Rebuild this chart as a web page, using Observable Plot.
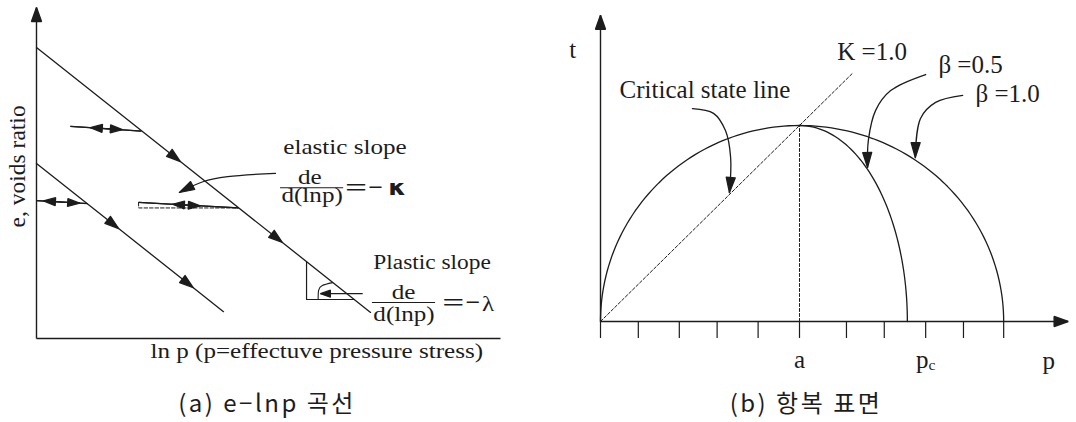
<!DOCTYPE html>
<html>
<head>
<meta charset="utf-8">
<script src="https://cdn.jsdelivr.net/npm/d3@7"></script>
<script src="https://cdn.jsdelivr.net/npm/@observablehq/plot@0.6"></script>
<style>
  body { margin: 0; background: #fff; }
  #wrap { position: relative; width: 1076px; height: 422px; overflow: hidden; }
  .panel { position: absolute; top: 0; height: 422px; }
  .panel svg { display: block; }
  .caption {
    position: absolute; top: 389px; transform: translateX(-50%);
    font-family: "Noto Sans CJK KR", sans-serif; font-size: 24px; line-height: 25px;
    letter-spacing: 2.5px; white-space: nowrap; color: #1c1c1c;
  }
</style>
</head>
<body>
<div id="wrap">
  <div class="panel" id="left" style="left:0;width:540px"><div class="caption" style="left:267px">(a) e−lnp 곡선</div></div>
  <div class="panel" id="right" style="left:540px;width:536px"><div class="caption" style="left:266px">(b) 항복 표면</div></div>
</div>
<script>
const ink = "#1c1c1c";
const serif = "Liberation Serif";

// Filled triangular arrowhead whose tip sits on the end of the path.
function arrowHead(len, half) {
  return (color) => {
    const ns = "http://www.w3.org/2000/svg";
    const m = document.createElementNS(ns, "marker");
    m.setAttribute("viewBox", `${-len} ${-half} ${len} ${2 * half}`);
    m.setAttribute("markerWidth", len);
    m.setAttribute("markerHeight", 2 * half);
    m.setAttribute("markerUnits", "userSpaceOnUse");
    m.setAttribute("refX", 0);
    m.setAttribute("refY", 0);
    m.setAttribute("orient", "auto");
    m.setAttribute("overflow", "visible");
    const p = document.createElementNS(ns, "path");
    p.setAttribute("d", `M0,0L${-len},${-half}L${-len},${half}Z`);
    p.setAttribute("fill", color);
    m.appendChild(p);
    return m;
  };
}
const axisHead = arrowHead(14, 5);
const flowHead = arrowHead(14, 4.5);
const swellHead = arrowHead(12, 4);
const calloutHead = arrowHead(15, 4.5);
const smallHead = arrowHead(10, 3.5);

// ---------- (a) e – ln p ----------
const lnpAxisEnd = 10;
const eAxisTop = 9;

// normal consolidation line and a parallel line below (interior points carry the flow arrows)
const nclUpper = [
  {lnp: 0, e: 7.91}, {lnp: 3.10, e: 4.81}, {lnp: 5.30, e: 2.61}, {lnp: 7.20, e: 0.71}
];
const nclLower = [
  {lnp: 0, e: 4.76}, {lnp: 1.77, e: 2.99}, {lnp: 3.38, e: 1.38}, {lnp: 4.03, e: 0.73}
];

// unloading–reloading segments
const swellSegments = [
  {x1: 0.73, y1: 5.77, x2: 2.26, y2: 5.64},
  {x1: 0.00, y1: 3.75, x2: 1.10, y2: 3.67},
  {x1: 2.20, y1: 3.70, x2: 4.35, y2: 3.55}
];
// their arrowheads: tail → tip
const swellArrows = [
  {x1: 2.26, y1: 5.64, x2: 1.16, y2: 5.735},
  {x1: 0.73, y1: 5.77, x2: 1.85, y2: 5.68},
  {x1: 1.10, y1: 3.67, x2: 0.15, y2: 3.74},
  {x1: 0.00, y1: 3.75, x2: 0.93, y2: 3.68},
  {x1: 4.35, y1: 3.55, x2: 2.93, y2: 3.649},
  {x1: 2.20, y1: 3.70, x2: 3.53, y2: 3.607}
];

const kappaGuide = [{lnp: 2.20, e: 3.70}, {lnp: 2.20, e: 3.55}, {lnp: 4.35, e: 3.55}];
const lambdaGuide = [{lnp: 5.82, e: 2.09}, {lnp: 5.82, e: 1.06}, {lnp: 6.85, e: 1.06}];
const lambdaArc = [{lnp: 6.38, e: 1.52}, {lnp: 6.16, e: 1.44}, {lnp: 6.08, e: 1.31}, {lnp: 6.07, e: 1.09}];
const lambdaPointer = [{x1: 7.03, y1: 1.22, x2: 6.12, y2: 1.22}];
const kappaCallout = [[5.15, 4.49], [4.12, 4.40], [3.60, 4.27], [3.08, 3.97]];

const elasticTitle = [{text: "elastic slope", x: 5.32, y: 5.03}];
const plasticTitle = [{text: "Plastic slope", x: 7.26, y: 1.90}];
const numerators = [{text: "de", x: 5.89, y: 4.21}, {text: "de", x: 7.91, y: 1.08}];
const fractionBars = [{y: 4.10, x1: 5.26, x2: 6.62}, {y: 0.98, x1: 7.24, x2: 8.60}];
const denominators = [{text: "d(lnp)", x: 5.94, y: 3.70}, {text: "d(lnp)", x: 7.92, y: 0.48}];
const equalsMinus = [{text: "＝−", x: 6.615, y: 4.08}, {text: "＝−", x: 8.71, y: 0.95}];
const kappaSymbol = [{text: "κ", x: 7.77, y: 4.08}];
const lambdaSymbol = [{text: "λ", x: 9.73, y: 0.95}];
const eAxisTitle = [{text: "e, voids ratio", x: -0.40, y: 4.68}];
const lnpAxisTitle = [{text: "ln p (p=effectuve pressure stress)", x: 2.457, y: -0.52}];

const linkXY = {x1: "x1", y1: "y1", x2: "x2", y2: "y2"};

const leftPlot = Plot.plot({
  width: 540, height: 372,
  marginTop: 7, marginRight: 40, marginBottom: 34, marginLeft: 36,
  x: {domain: [0, lnpAxisEnd], range: [36, 500], axis: null},
  y: {domain: [0, eAxisTop], range: [338, 7], axis: null},
  style: {background: "white", color: ink, overflow: "visible"},
  marks: [
    Plot.link([{x1: 0, y1: 0, x2: 0, y2: eAxisTop}], {...linkXY, stroke: ink, strokeWidth: 1.4, markerEnd: axisHead}),
    Plot.link([{x1: 0, y1: 0, x2: lnpAxisEnd, y2: 0}], {...linkXY, stroke: ink, strokeWidth: 1.4}),
    Plot.line(nclUpper, {x: "lnp", y: "e", stroke: ink, strokeWidth: 1.3, markerMid: flowHead}),
    Plot.line(nclLower, {x: "lnp", y: "e", stroke: ink, strokeWidth: 1.3, markerMid: flowHead}),
    Plot.link(swellSegments, {...linkXY, stroke: ink, strokeWidth: 1.2}),
    Plot.link(swellArrows, {...linkXY, stroke: ink, strokeWidth: 1.2, markerEnd: swellHead}),
    Plot.line(kappaGuide, {x: "lnp", y: "e", stroke: ink, strokeWidth: 1, strokeDasharray: "3.5,2"}),
    Plot.line(lambdaGuide, {x: "lnp", y: "e", stroke: ink, strokeWidth: 1.2}),
    Plot.line(lambdaArc, {x: "lnp", y: "e", stroke: ink, strokeWidth: 1.1, curve: "natural"}),
    Plot.link(lambdaPointer, {...linkXY, stroke: ink, strokeWidth: 1.1, markerEnd: smallHead}),
    Plot.line(kappaCallout, {x: (d) => d[0], y: (d) => d[1], stroke: ink, strokeWidth: 1.2, curve: "catmull-rom", markerEnd: calloutHead}),
    Plot.text(elasticTitle, {x: "x", y: "y", text: "text", textAnchor: "start", lineAnchor: "bottom", fontSize: 22, fontFamily: serif}),
    Plot.text(plasticTitle, {x: "x", y: "y", text: "text", textAnchor: "start", lineAnchor: "bottom", fontSize: 20.5, fontFamily: serif}),
    Plot.text(numerators, {x: "x", y: "y", text: "text", lineAnchor: "bottom", fontSize: 22, fontFamily: serif}),
    Plot.ruleY(fractionBars, {y: "y", x1: "x1", x2: "x2", stroke: ink, strokeWidth: 1.1}),
    Plot.text(denominators, {x: "x", y: "y", text: "text", lineAnchor: "bottom", fontSize: 22, fontFamily: serif}),
    Plot.text(equalsMinus, {x: "x", y: "y", text: "text", textAnchor: "start", lineAnchor: "middle", fontSize: 21, fontFamily: "Noto Sans CJK KR"}),
    Plot.text(kappaSymbol, {x: "x", y: "y", text: "text", lineAnchor: "middle", fontSize: 22, fontWeight: "bold", fontFamily: "DejaVu Sans"}),
    Plot.text(lambdaSymbol, {x: "x", y: "y", text: "text", lineAnchor: "middle", fontSize: 22, fontFamily: serif}),
    Plot.text(eAxisTitle, {x: "x", y: "y", text: "text", rotate: -90, lineAnchor: "middle", fontSize: 23.5, fontFamily: serif}),
    Plot.text(lnpAxisTitle, {x: "x", y: "y", text: "text", textAnchor: "start", lineAnchor: "bottom", fontSize: 22, fontFamily: serif})
  ]
});

// ---------- (b) yield surface in p–t ----------
const a = 5;          // abscissa of the apex
const tPeak = 5;      // apex height (critical state line K = 1.0 passes through it)
const caps = [{beta: "0.5", pEnd: 7.71}, {beta: "1.0", pEnd: 10.13}];
const cslEnd = 6.35;
const pAxisEnd = 11.75;
const tAxisTop = 7.81;
const pTicks = [0, 0.95, 1.98, 2.93, 3.96, 5, 6.18, 7.13, 8.17, 9.12, 10.13];
const pTickNames = new Map([[5, "a"], [8.17, "pc"]]);

// failure side: quarter ellipse from the origin to the apex
const failureArc = d3.range(0, 61).map((i) => {
  const th = Math.PI - (Math.PI / 2) * i / 60;
  return {p: a + a * Math.cos(th), t: tPeak * Math.sin(th)};
});
// cap sides: quarter ellipses from the apex down to the p axis
const capArcs = caps.flatMap((c) => d3.range(0, 61).map((i) => {
  const th = (Math.PI / 2) * (1 - i / 60);
  return {beta: c.beta, p: a + (c.pEnd - a) * Math.cos(th), t: tPeak * Math.sin(th)};
}));

const csl = [{p: 0, t: 0}, {p: cslEnd, t: cslEnd}];
const apexDrop = [{p: a, t: 0}, {p: a, t: tPeak}];

const cslCallout = [[2.31, 5.43], [2.84, 5.31], [3.14, 4.87], [3.27, 4.18], [3.24, 3.29]];
const beta05Callout = [[8.17, 6.30], [7.29, 5.89], [6.91, 5.38], [6.73, 4.62], [6.71, 3.93]];
const beta10Callout = [[9.10, 5.77], [8.42, 5.59], [8.04, 5.18], [7.91, 4.18]];

const axisNames = [{text: "t", x: -0.70, y: 6.71}, {text: "p", x: 11.26, y: -1.2}];
const annotations = [
  {text: "Critical state line", x: 0.48, y: 5.69},
  {text: "K =1.0", x: 5.95, y: 6.66},
  {text: "β =0.5", x: 8.49, y: 6.33},
  {text: "β =1.0", x: 9.42, y: 5.59}
];

const rightPlot = Plot.plot({
  width: 536, height: 372,
  marginTop: 15, marginRight: 0, marginBottom: 51, marginLeft: 60,
  x: {domain: [0, 12], range: [60, 60 + 12 * 39.8]},
  y: {domain: [0, 8], range: [321, 321 - 8 * 39.2], axis: null},
  style: {background: "white", color: ink, overflow: "visible"},
  marks: [
    Plot.axisX({ticks: pTicks, tickSize: 17, tickPadding: 12, tickFormat: (d) => pTickNames.get(d) ?? "", fontSize: 25, fontFamily: serif, label: null, strokeWidth: 1.2}),
    Plot.link([{x1: 0, y1: 0, x2: 0, y2: tAxisTop}], {...linkXY, stroke: ink, strokeWidth: 1.4, markerEnd: axisHead}),
    Plot.link([{x1: 0, y1: 0, x2: pAxisEnd, y2: 0}], {...linkXY, stroke: ink, strokeWidth: 1.4, markerEnd: axisHead}),
    Plot.line(failureArc, {x: "p", y: "t", stroke: ink, strokeWidth: 1.3}),
    Plot.line(capArcs, {x: "p", y: "t", z: "beta", stroke: ink, strokeWidth: 1.3}),
    Plot.line(csl, {x: "p", y: "t", stroke: ink, strokeWidth: 1, strokeDasharray: "3,2"}),
    Plot.line(apexDrop, {x: "p", y: "t", stroke: ink, strokeWidth: 1, strokeDasharray: "3,2"}),
    Plot.line(cslCallout, {x: (d) => d[0], y: (d) => d[1], stroke: ink, strokeWidth: 1.3, curve: "catmull-rom", markerEnd: calloutHead}),
    Plot.line(beta05Callout, {x: (d) => d[0], y: (d) => d[1], stroke: ink, strokeWidth: 1.3, curve: "catmull-rom", markerEnd: calloutHead}),
    Plot.line(beta10Callout, {x: (d) => d[0], y: (d) => d[1], stroke: ink, strokeWidth: 1.3, curve: "catmull-rom", markerEnd: calloutHead}),
    Plot.text(axisNames, {x: "x", y: "y", text: "text", lineAnchor: "bottom", fontSize: 25, fontFamily: serif}),
    Plot.text(annotations, {x: "x", y: "y", text: "text", textAnchor: "start", lineAnchor: "bottom", fontSize: 25, fontFamily: serif})
  ]
});

document.getElementById("left").prepend(leftPlot);
document.getElementById("right").prepend(rightPlot);

// the e – ln p panel is set in horizontally widened type; the equation signs get a wide fixed span
leftPlot.querySelectorAll("text").forEach((t) => {
  if ((t.getAttribute("transform") || "").includes("rotate")) return;
  const len = t.getComputedTextLength();
  if (!(len > 0)) return;
  t.setAttribute("textLength", t.textContent === "＝−" ? "39" : (len * 1.14).toFixed(1));
  t.setAttribute("lengthAdjust", "spacingAndGlyphs");
});

// subscript c in the p_c tick label
rightPlot.querySelectorAll("text").forEach((t) => {
  if (t.textContent === "pc") {
    t.textContent = "p";
    const sub = document.createElementNS("http://www.w3.org/2000/svg", "tspan");
    sub.setAttribute("font-size", "0.62em");
    sub.setAttribute("dy", "0.12em");
    sub.textContent = "c";
    t.appendChild(sub);
  }
});
</script>
</body>
</html>
